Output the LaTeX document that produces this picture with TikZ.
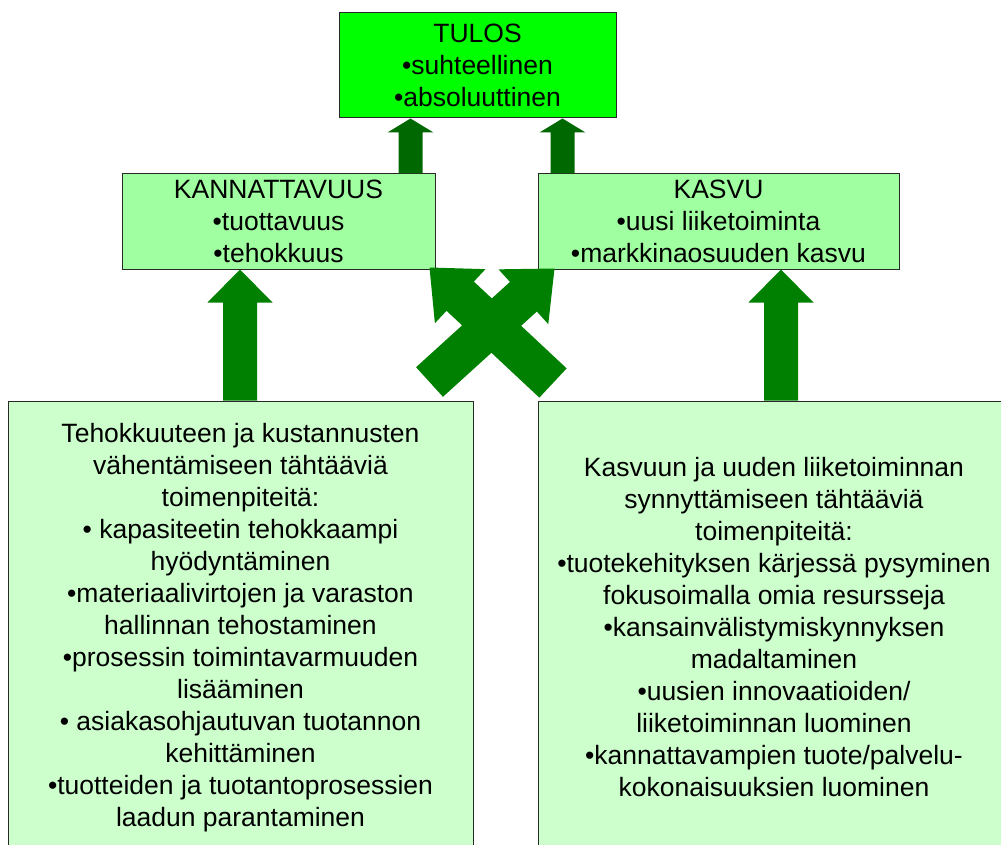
\documentclass[tikz,border=0pt]{standalone}
\usepackage{fontspec}
\setmainfont{Liberation Sans}
\usetikzlibrary{calc}

\definecolor{topfill}{RGB}{0,255,0}
\definecolor{midfill}{RGB}{160,255,160}
\definecolor{lowfill}{RGB}{204,255,204}
\definecolor{arrowgreen}{RGB}{0,128,0}
\definecolor{arrowdark}{RGB}{0,104,0}
\definecolor{edgegray}{RGB}{40,40,40}

% Block arrow: colour, tail, tip, half shaft width, half head width, head length
\newcommand\blockarrow[6]{%
  \coordinate (ba-h) at ($(#3)!#6!(#2)$);
  \fill[#1] ($(#2)!#4!90:(#3)$) -- ($(ba-h)!#4!90:(#3)$) -- ($(ba-h)!#5!90:(#3)$)
    -- (#3) -- ($(ba-h)!#5!-90:(#3)$) -- ($(ba-h)!#4!-90:(#3)$)
    -- ($(#2)!#4!-90:(#3)$) -- cycle;}

\begin{document}
\begin{tikzpicture}[x=1pt,y=-1pt,
  txt/.style={inner sep=0pt, align=center, font=\fontsize{26.5}{32}\selectfont},
  box/.style={txt, draw=edgegray, line width=1pt}]
\useasboundingbox (0,0) rectangle (1001,845);
\clip (0,0) rectangle (1001,845);

% boxes
\node[box, fill=topfill, minimum width=277pt, minimum height=105pt] (tulos) at (477.5,65.5)
  {TULOS\\•suhteellinen\\•absoluuttinen};
\node[box, fill=midfill, minimum width=313pt, minimum height=95pt] (kan) at (278.5,221.5)
  {KANNATTAVUUS\\•tuottavuus\\•tehokkuus};
\node[box, fill=midfill, minimum width=361pt, minimum height=95pt] (kas) at (718.5,221.5)
  {KASVU\\•uusi liiketoiminta\\•markkinaosuuden kasvu};
\node[box, fill=lowfill, minimum width=465pt, minimum height=453pt] (lb) at (240.5,627.5)
  {Tehokkuuteen ja kustannusten\\vähentämiseen tähtääviä\\toimenpiteitä:\\
   • kapasiteetin tehokkaampi\\hyödyntäminen\\
   •materiaalivirtojen ja varaston\\hallinnan tehostaminen\\
   •prosessin toimintavarmuuden\\lisääminen\\
   • asiakasohjautuvan tuotannon\\kehittäminen\\
   •tuotteiden ja tuotantoprosessien\\laadun parantaminen};
% the right box runs past the page edge; its text is set on its own
\node[box, fill=lowfill, minimum width=502pt, minimum height=453pt] (rb) at (789,627.5) {};
\node[txt] (rbtext) at (774,627.5)
  {Kasvuun ja uuden liiketoiminnan\\synnyttämiseen tähtääviä\\toimenpiteitä:\\
   •tuotekehityksen kärjessä pysyminen\\fokusoimalla omia resursseja\\
   •kansainvälistymiskynnyksen\\madaltaminen\\
   •uusien innovaatioiden/\\liiketoiminnan luominen\\
   •kannattavampien tuote/palvelu-\\kokonaisuuksien luominen};

% arrow end points
\coordinate (t1) at ($(tulos.south)+(-67,0)$);
\coordinate (t1b) at (t1 |- kan.north);
\coordinate (t2) at ($(tulos.south)+(85,0)$);
\coordinate (t2b) at (t2 |- kas.north);
\coordinate (l1) at ($(lb.north)+(-0.5,0)$);
\coordinate (l1t) at (l1 |- kan.south);
\coordinate (r1) at ($(rbtext.center |- rb.north)+(7,0)$);
\coordinate (r1t) at (r1 |- kas.south);
\coordinate (xa) at ($(rb.north west)+(15.5,-17.5)$);
\coordinate (xat) at ($(kan.south east)+(-6,-2)$);
\coordinate (xb) at ($(lb.north east)+(-44,-18.5)$);
\coordinate (xbt) at ($(kas.south west)+(17,-1)$);

% arrows into TULOS
\blockarrow{arrowdark}{t1b}{t1}{12pt}{23pt}{14pt}
\blockarrow{arrowdark}{t2b}{t2}{12pt}{23pt}{14pt}
% arrows from the measure boxes
\blockarrow{arrowgreen}{l1}{l1t}{17pt}{32.5pt}{33pt}
\blockarrow{arrowgreen}{r1}{r1t}{17pt}{32.5pt}{33pt}
% crossing arrows
\blockarrow{arrowgreen}{xa}{xat}{20pt}{37pt}{42pt}
\blockarrow{arrowgreen}{xb}{xbt}{20pt}{37pt}{42pt}
\end{tikzpicture}
\end{document}
